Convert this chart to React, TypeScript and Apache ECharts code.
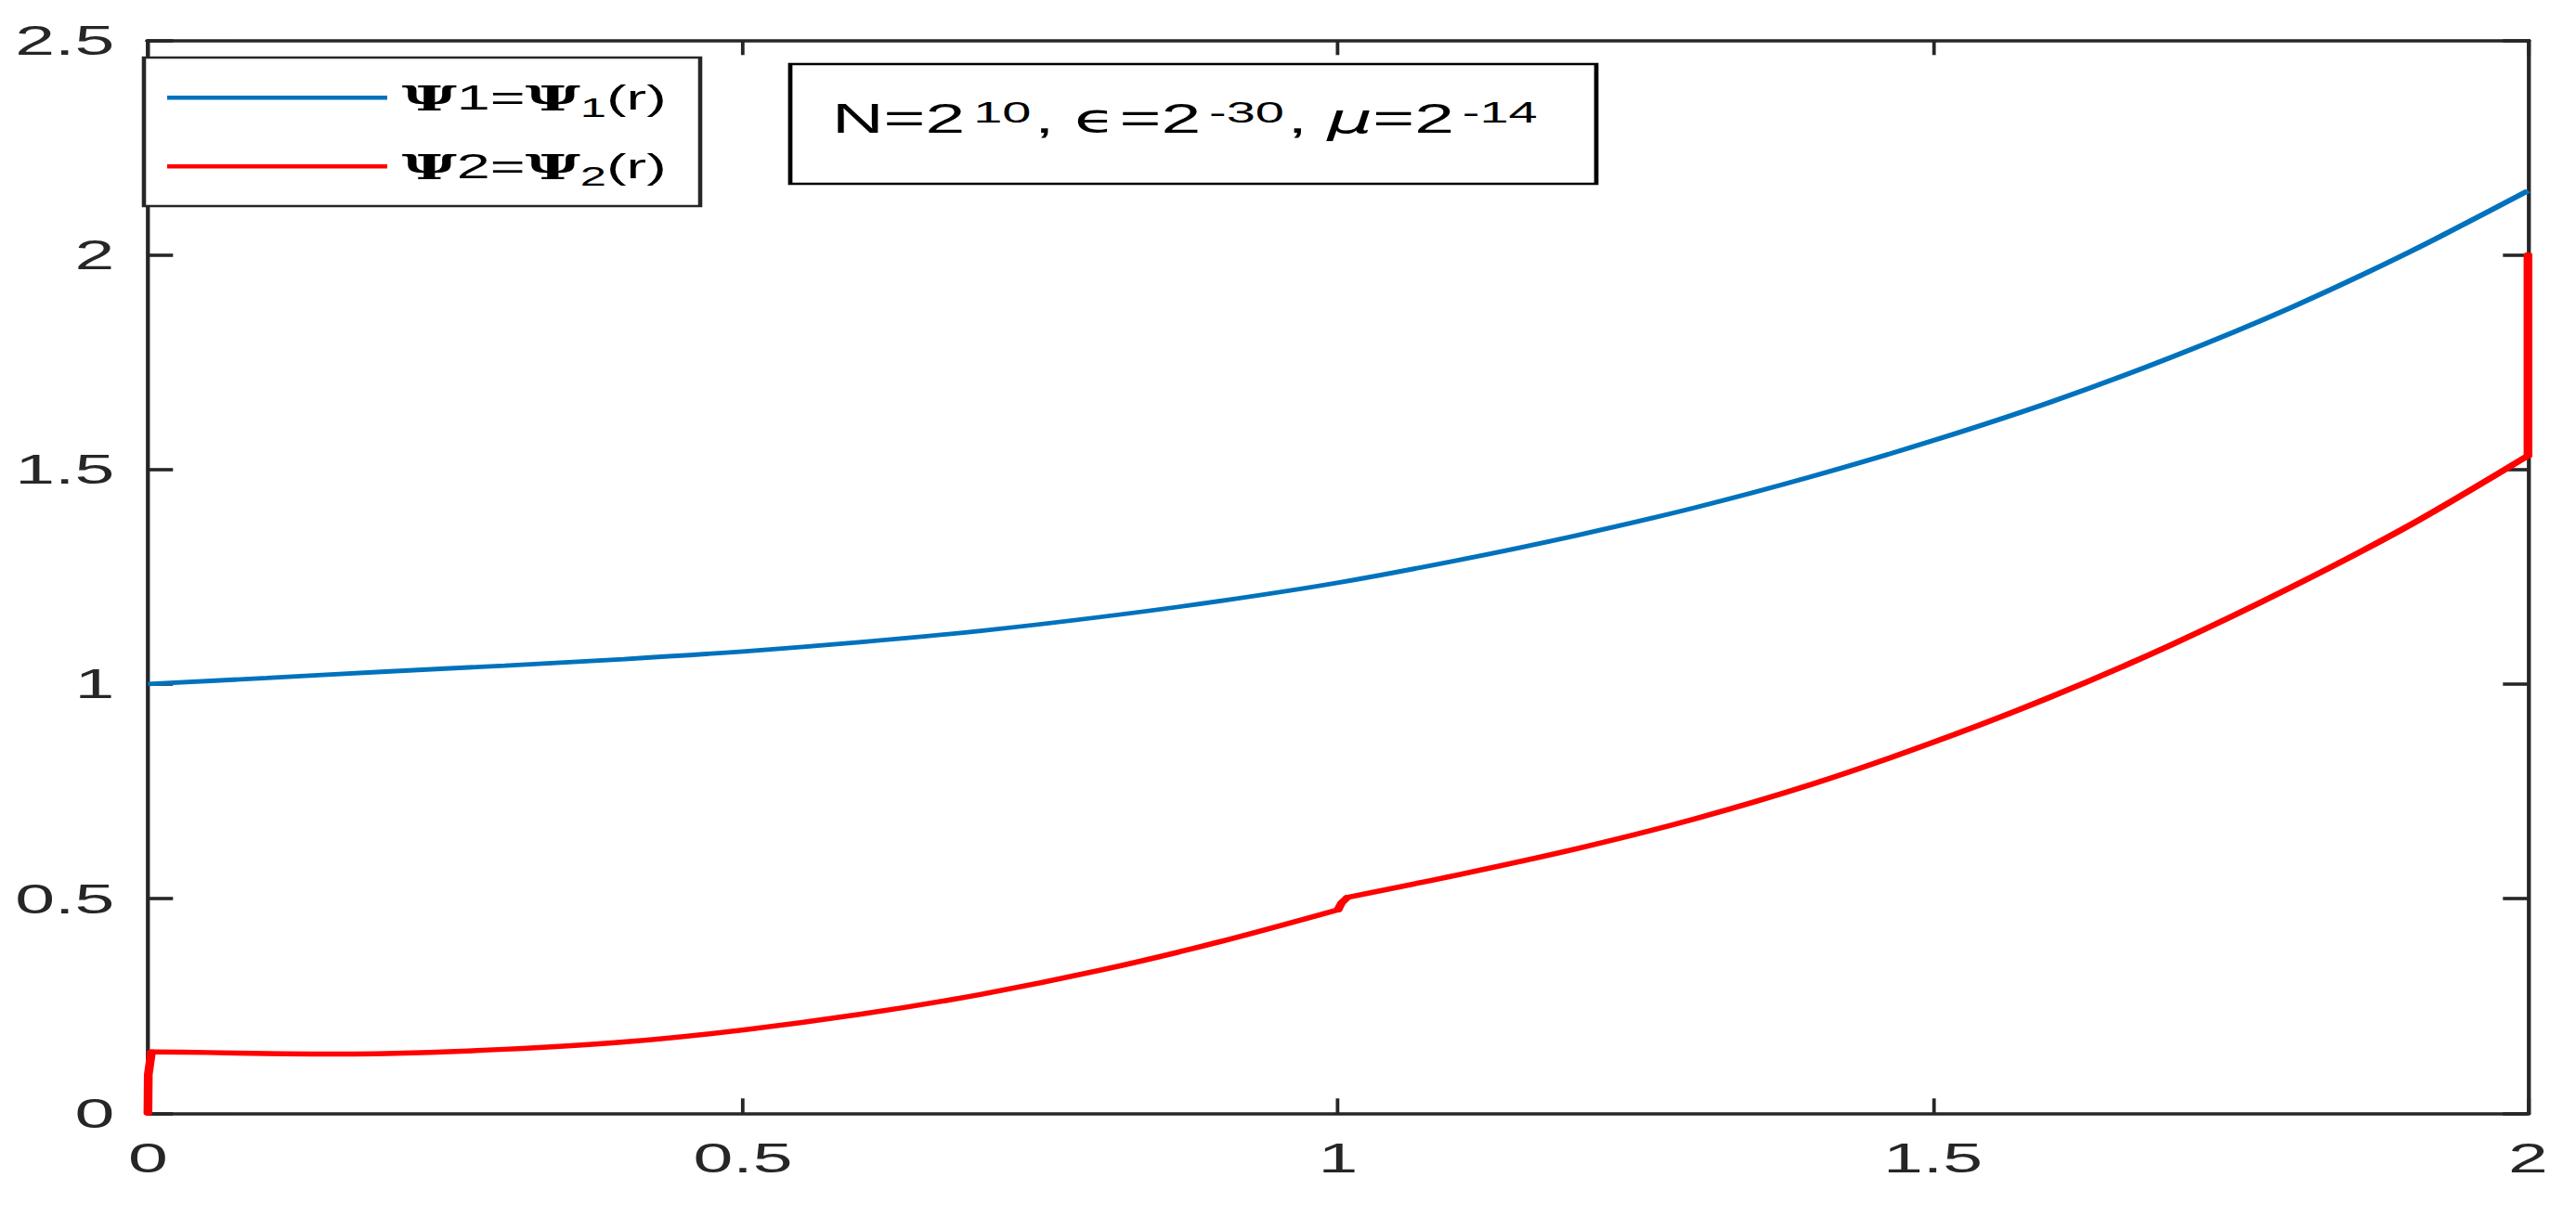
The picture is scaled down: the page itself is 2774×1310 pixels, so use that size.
import React, { useEffect, useRef } from 'react';
import * as echarts from 'echarts';

// ---------- data ----------
const xTickLabels = ['0', '0.5', '1', '1.5', '2'];
const yTickLabels = ['0', '0.5', '1', '1.5', '2', '2.5'];

const rBlue = [0, 0.1, 0.2, 0.3, 0.4, 0.5, 0.6, 0.7, 0.8, 0.9, 1.0, 1.1, 1.2, 1.3, 1.4, 1.5, 1.6, 1.7, 1.8, 1.9, 2.0];
const psi1 = [1.0, 1.014, 1.029, 1.043, 1.058, 1.076, 1.098, 1.124, 1.156, 1.193, 1.236, 1.288, 1.346, 1.411, 1.485, 1.567, 1.658, 1.761, 1.876, 2.006, 2.149];

const rRed = [0, 0.0003, 0.003, 0.05, 0.1, 0.15, 0.2, 0.3, 0.4, 0.5, 0.6, 0.7, 0.8, 0.9, 1.0, 1.003, 1.008, 1.1, 1.2, 1.3, 1.4, 1.5, 1.6, 1.7, 1.8, 1.9, 2.0, 2.0];
const psi2 = [0, 0.09, 0.143, 0.1415, 0.139, 0.138, 0.139, 0.149, 0.166, 0.194, 0.231, 0.277, 0.333, 0.399, 0.474, 0.49, 0.503, 0.555, 0.616, 0.686, 0.768, 0.864, 0.971, 1.091, 1.224, 1.369, 1.532, 2.0];
// pieces of the red curve: [first index, last index, drawn smooth]
const redPieces: [number, number, boolean][] = [
  [0, 2, false],
  [2, 14, true],
  [14, 16, false],
  [16, 26, true],
  [26, 27, false],
];

const seriesNames = ['Ψ1=Ψ1(r)', 'Ψ2=Ψ2(r)'];
const seriesColors = ['#0072BD', '#FF0000'];

// ---------- layout ----------
const FULL_W = 2774;
const FULL_H = 1310;
const W = 1585;
const S = FULL_W / W; // horizontal stretch of the original figure
const ix = (v: number) => v / S;

const FONT = "'Liberation Sans', Arial, Helvetica, sans-serif";
const PSI_FONT = "'DejaVu Serif', 'Liberation Serif', serif";
const AX = '#262626';

const legendRich: Record<string, string> = {
  [seriesNames[0]]: '{p0|Ψ}{t|1=}{p|Ψ}{s|1}{t|(r)}',
  [seriesNames[1]]: '{p0|Ψ}{t|2=}{p|Ψ}{s|2}{t|(r)}',
};

function buildOption() {
  const axisCommon = (isX: boolean, show: boolean) => ({
    type: 'value',
    min: 0,
    max: isX ? 2 : 2.5,
    interval: 0.5,
    splitLine: { show: false },
    axisLine: { show: true, onZero: false, lineStyle: { color: AX, width: isX ? 3.6 : ix(4.3) } },
    axisTick: { show: true, inside: true, length: isX ? 16 : ix(27), lineStyle: { color: AX, width: isX ? ix(3.8) : 3.6 } },
    axisLabel: {
      show,
      margin: isX ? 26 : ix(36),
      fontSize: 44,
      fontFamily: FONT,
      color: AX,
      formatter: (v: number) => (isX ? xTickLabels : yTickLabels)[Math.round(v / 0.5)],
    },
  });

  const redSeries = redPieces.map(([a, b, smooth]) => ({
    name: seriesNames[1],
    type: 'line',
    data: rRed.slice(a, b + 1).map((r, i) => [r, psi2[a + i]]),
    showSymbol: false,
    symbol: 'none',
    smooth: smooth ? 0.3 : false,
    clip: false,
    z: 2,
    lineStyle: { color: seriesColors[1], width: 5.4, cap: 'round', join: 'round' },
    itemStyle: { color: seriesColors[1] },
  }));

  return {
    animation: false,
    backgroundColor: '#ffffff',
    grid: { left: ix(159.3), right: W - ix(2722.3), top: 43.3, bottom: FULL_H - 1199.3 },
    xAxis: [
      { ...axisCommon(true, true), position: 'bottom' },
      { ...axisCommon(true, false), position: 'top' },
    ],
    yAxis: [
      { ...axisCommon(false, true), position: 'left' },
      { ...axisCommon(false, false), position: 'right' },
    ],
    legend: {
      orient: 'vertical',
      left: ix(180),
      top: 80.3,
      padding: 0,
      itemGap: 24,
      icon: 'rect',
      itemWidth: ix(417) - ix(180),
      itemHeight: 4.6,
      selectedMode: false,
      z: 10,
      data: seriesNames,
      formatter: (name: string) => legendRich[name],
      textStyle: {
        fontSize: 37,
        fontFamily: FONT,
        color: '#000',
        lineHeight: 50,
        rich: {
          p0: { fontFamily: PSI_FONT, fontWeight: 'bold', fontSize: 37, lineHeight: 50, color: '#000', padding: [0, 0, 0, 4] },
          p: { fontFamily: PSI_FONT, fontWeight: 'bold', fontSize: 37, lineHeight: 50, color: '#000' },
          t: { fontFamily: FONT, fontSize: 37, lineHeight: 50, color: '#000' },
          s: { fontFamily: FONT, fontSize: 29, lineHeight: 8, verticalAlign: 'bottom', color: '#000' },
        },
      },
    },
    graphic: {
      elements: [
        {
          type: 'rect',
          z: 3,
          shape: { x: ix(155), y: 62, width: ix(754) - ix(155), height: 160 },
          style: { fill: '#ffffff', stroke: AX, lineWidth: 2.6 },
        },
        {
          type: 'rect',
          z: 3,
          shape: { x: ix(851), y: 69, width: ix(1719) - ix(851), height: 129 },
          style: { fill: '#ffffff', stroke: '#000000', lineWidth: 2.7 },
        },
        {
          type: 'text',
          z: 11,
          x: ix(896),
          y: 127.5,
          style: {
            text: '{n|N=2}{sup|10}{n|, }{e|ϵ}{n|=2}{sup|-30}{n|, }{mu|μ}{n|=2}{sup|-14}',
            align: 'left',
            verticalAlign: 'middle',
            fill: '#000',
            fontSize: 44,
            fontFamily: FONT,
            rich: {
              n: { fontSize: 44, fontFamily: FONT, lineHeight: 44, fill: '#000' },
              e: { fontSize: 42, fontFamily: "'DejaVu Sans', sans-serif", lineHeight: 44, fill: '#000', padding: [0, 2, 0, 0] },
              mu: { fontSize: 44, fontFamily: "'DejaVu Sans', sans-serif", fontStyle: 'italic', lineHeight: 44, fill: '#000' },
              sup: { fontSize: 32, fontFamily: FONT, lineHeight: 8, verticalAlign: 'top', fill: '#000', padding: [0, 2, 0, 5] },
            },
          },
        },
      ],
    },
    series: [
      {
        name: seriesNames[0],
        type: 'line',
        data: rBlue.map((r, i) => [r, psi1[i]]),
        showSymbol: false,
        symbol: 'none',
        smooth: 0.3,
        clip: false,
        z: 2,
        lineStyle: { color: seriesColors[0], width: 4.8 },
        itemStyle: { color: seriesColors[0] },
      },
      ...redSeries,
    ],
  };
}

export default function App() {
  const ref = useRef<HTMLDivElement>(null);
  useEffect(() => {
    if (!ref.current) return;
    const chart = echarts.init(ref.current, null, { renderer: 'svg', width: W, height: FULL_H });
    chart.setOption(buildOption() as any);
    return () => chart.dispose();
  }, []);
  return (
    <div
      style={{
        position: 'fixed',
        left: 0,
        top: 0,
        width: FULL_W,
        height: FULL_H,
        overflow: 'hidden',
        background: '#ffffff',
      }}
    >
      <div
        ref={ref}
        style={{ width: W, height: FULL_H, transform: `scaleX(${S})`, transformOrigin: '0 0' }}
      />
    </div>
  );
}
